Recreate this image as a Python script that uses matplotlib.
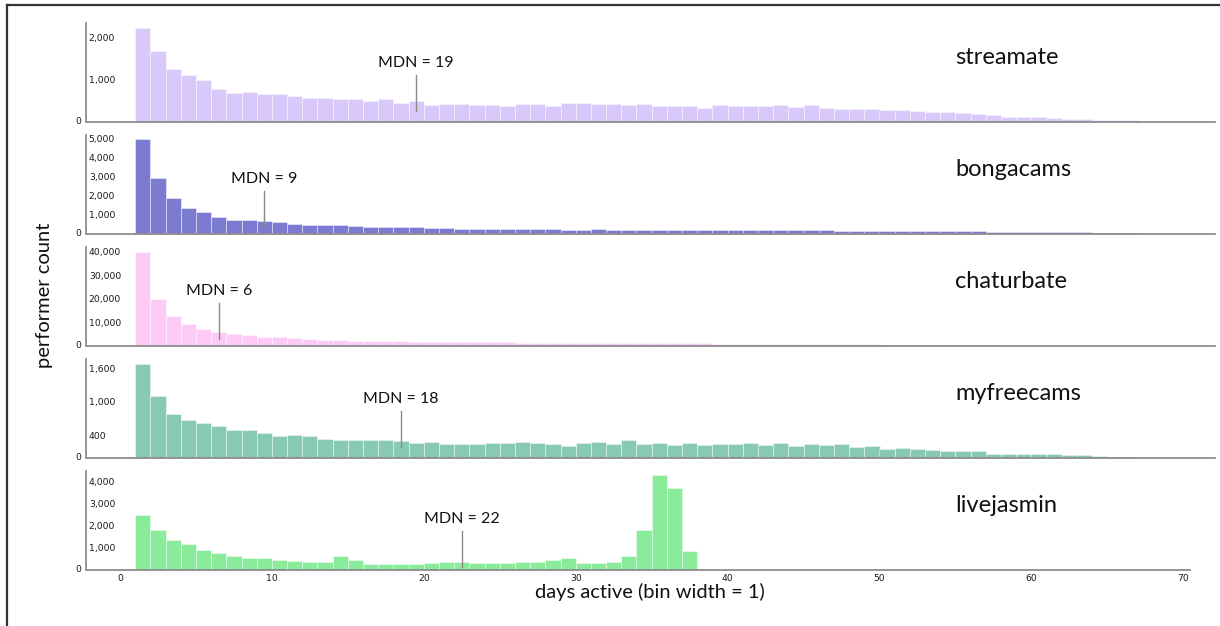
import matplotlib
matplotlib.use("Agg")
import matplotlib.pyplot as plt
import matplotlib.transforms as mtransforms
from matplotlib.lines import Line2D
import numpy as np

# ---------------- data ----------------
platforms = ["streamate", "bongacams", "chaturbate", "myfreecams", "livejasmin"]
medians = [19, 9, 6, 18, 22]

streamate = [2220, 1670, 1250, 1110, 990, 780, 690, 715, 655, 655,
             605, 565, 560, 550, 535, 505, 550, 455, 495, 410,
             435, 435, 395, 395, 385, 415, 435, 380, 450, 450, 415,
             425, 410, 425, 370, 385, 385, 330, 400, 385, 385,
             370, 410, 345, 400, 340, 315, 315, 305, 290, 290,
             260, 235, 235, 205, 180, 165, 125, 110, 120, 85,
             70, 63, 50, 50, 40]
bongacams = [4990, 2930, 1880, 1380, 1160, 910, 750, 730, 680, 610,
             540, 480, 465, 465, 410, 360, 390, 360, 360, 300,
             300, 250, 270, 270, 270, 270, 270, 285, 230, 230, 285,
             220, 195, 215, 200, 200, 200, 200, 195, 200, 195,
             190, 200, 235, 205, 200, 175, 175, 170, 170, 165,
             150, 145, 140, 140, 135, 120, 115, 110, 95, 90,
             85, 80, 75, 70, 70]
chaturbate = [40000, 20000, 12600, 9200, 7200, 6000, 5000, 4500, 3800, 3700,
              3300, 3000, 2550, 2400, 2250, 2100, 2000, 1950, 1850, 1700,
              1700, 1550, 1550, 1500, 1500, 1400, 1400, 1400, 1400, 1300,
              1300, 1250, 1250,
              1200, 1200, 1150, 1100, 1100, 1050, 1000, 1000, 950, 900,
              900, 850, 800, 750, 700, 650, 600, 550, 500, 450,
              400, 350, 300, 250, 200, 180, 150, 120, 100, 80,
              60, 50, 40]
myfreecams = [1675, 1100, 785, 677, 624, 570, 505, 493, 440, 386,
              416, 392, 345, 327, 327, 315, 321, 303, 261, 285,
              255, 255, 255, 267, 261, 285, 273, 243, 220, 261, 285,
              255, 321, 243, 267, 237, 273, 232, 255, 249, 273,
              232, 267, 220, 243, 226, 249, 196, 220, 166, 184,
              160, 137, 131, 131, 131, 77, 77, 65, 65, 65,
              45, 45, 40, 25, 25]
livejasmin = [2490, 1800, 1375, 1190, 900, 780, 625, 550, 535, 475,
              430, 380, 380, 655, 460, 260, 290, 275, 275, 305,
              350, 380, 305, 335, 305, 350, 350, 445, 550, 320,
              320, 380, 625, 1815, 4300, 3725, 870]
series = [streamate, bongacams, chaturbate, myfreecams, livejasmin]

y_ticks = [[1000, 2000],
           [1000, 2000, 3000, 4000, 5000],
           [10000, 20000, 30000, 40000],
           [400, 1000, 1600],
           [1000, 2000, 3000, 4000]]
y_tops = [2330, 5200, 42100, 1764, 4500]
x_ticks = [0, 10, 20, 30, 40, 50, 60, 70]

colors = ["#d9c9fb", "#7b7bd1", "#fdcaf6", "#88c9b6", "#8aeb9a"]

# ---------------- layout (pixels) ----------------
W, H = 1220, 626
DPI = 100
x0_px, unit_px = 120.0, 15.19
left_px = 86
right_px = [1215, 1215, 1215, 1215, 1190]
baselines = [122, 234, 346, 458, 570]
panel_h = 99
# MDN annotation geometry (pixels above baseline): text centre, line top, line bottom
mdn_geom = [(59, 47, 11), (55, 43, 7), (55, 43, 7), (59, 47, 11), (51, 39, 3)]

main_font = ["Lato", "DejaVu Sans"]
tick_font = ["DejaVu Sans"]
tick_fs = 6.7

fig = plt.figure(figsize=(W / DPI, H / DPI), dpi=DPI)
fig.patch.set_facecolor("white")

axis_col = "#8c8c8c"

for i, (name, vals) in enumerate(zip(platforms, series)):
    rp = right_px[i]
    rect = [left_px / W, (H - baselines[i]) / H, (rp - left_px) / W, panel_h / H]
    ax = fig.add_axes(rect)
    xl = ((left_px - x0_px) / unit_px, (rp - x0_px) / unit_px)
    ax.set_xlim(*xl)
    ax.set_ylim(0, y_tops[i])

    x = np.arange(1, len(vals) + 1)
    ax.bar(x, vals, width=1.0, align="edge", color=colors[i],
           edgecolor=(1, 1, 1, 0.5), linewidth=0.6, zorder=2)

    for s in ["top", "right"]:
        ax.spines[s].set_visible(False)
    for s in ["left", "bottom"]:
        ax.spines[s].set_color(axis_col)
        ax.spines[s].set_linewidth(1.3)
        ax.spines[s].set_zorder(3)

    # y ticks: labels inside the axis
    ax.set_yticks(y_ticks[i])
    ax.set_yticklabels([f"{t:,}" for t in y_ticks[i]], fontsize=tick_fs,
                       family=tick_font, ha="left", color="#1a1a1a")
    ax.tick_params(axis="y", length=0, pad=-2.0)
    trans_y = mtransforms.blended_transform_factory(ax.transAxes, ax.transData)
    ax.text(-0.004, 0, "0", transform=trans_y, ha="right", va="center",
            fontsize=tick_fs, family=tick_font, color="#1a1a1a")

    if i == len(platforms) - 1:
        ax.set_xticks(x_ticks)
        ax.set_xticklabels([str(t) for t in x_ticks], fontsize=tick_fs,
                           family=tick_font, color="#1a1a1a")
        ax.tick_params(axis="x", length=0, pad=3)
    else:
        ax.set_xticks([])

    # platform label
    trans_x = mtransforms.blended_transform_factory(ax.transData, ax.transAxes)
    ax.text((955 - x0_px) / unit_px, 64 / panel_h, name, transform=trans_x,
            ha="left", va="center", fontsize=17, family=main_font, color="#111111")

    # median annotation
    tc, lt, lb = mdn_geom[i]
    mx = medians[i] + 0.5
    ax.axvline(mx, ymin=lb / panel_h, ymax=lt / panel_h, color="#8a8a8a",
               lw=1.0, zorder=4)
    ax.text(mx, tc / panel_h, f"MDN = {medians[i]}", transform=trans_x,
            ha="center", va="center", fontsize=11.5, family=main_font,
            color="#111111", zorder=5)

# axis titles
fig.text(45 / W, 1 - 295 / H, "performer count", rotation=90, ha="center",
         va="center", fontsize=14.5, family=main_font, color="#111111")
fig.text(650 / W, 1 - 592 / H, "days active (bin width = 1)", ha="center",
         va="center", fontsize=14.5, family=main_font, color="#111111")

# outer frame (left and top edges)
fig.add_artist(Line2D([7 / W, 7 / W], [0, 1 - 5 / H], transform=fig.transFigure,
                      color="#333333", lw=1.6))
fig.add_artist(Line2D([7 / W, 1], [1 - 5 / H, 1 - 5 / H], transform=fig.transFigure,
                      color="#333333", lw=1.6))

fig.savefig("out.png", dpi=DPI, facecolor="white")
